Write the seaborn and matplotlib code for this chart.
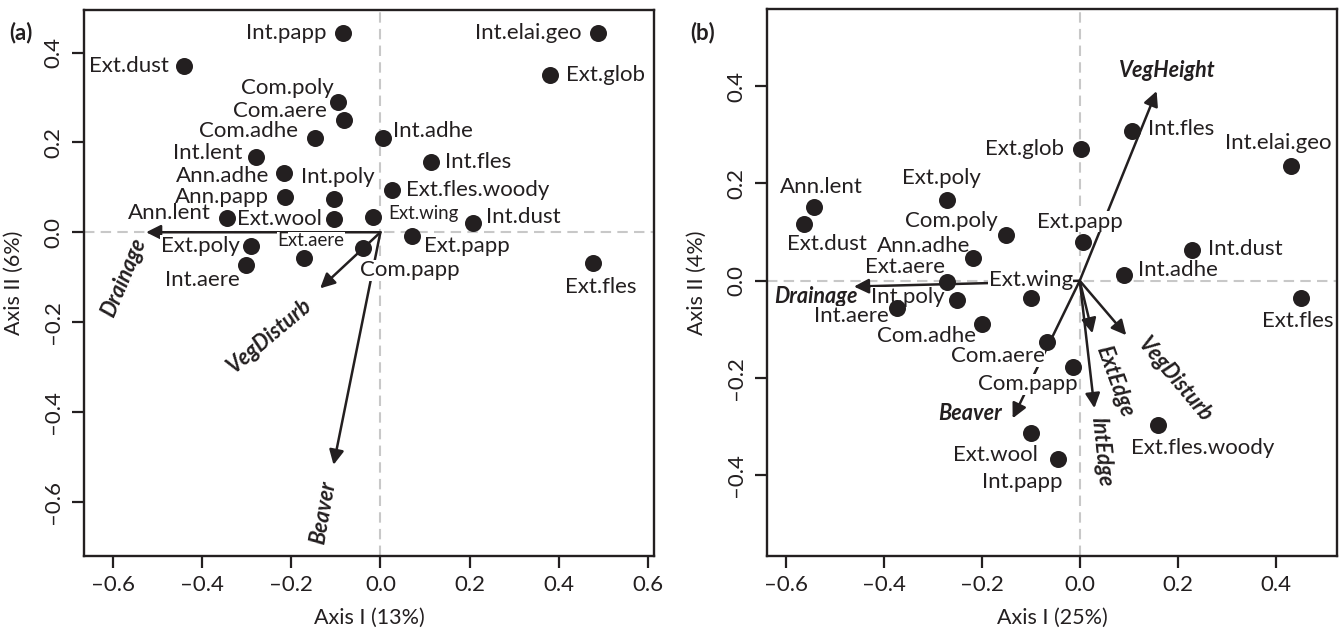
import numpy as np
import pandas as pd
import matplotlib
matplotlib.use("Agg")
import matplotlib.pyplot as plt
import seaborn as sns

# ---- panel (a) species scores
a_names = ["Int.papp", "Int.elai.geo", "Ext.dust", "Ext.glob", "Com.poly", "Com.aere",
           "Com.adhe", "Int.adhe", "Int.lent", "Int.fles", "Ann.adhe", "Int.poly",
           "Ext.fles.woody", "Ann.papp", "Ann.lent", "Ext.wool", "Ext.wing", "Int.dust",
           "Ext.papp", "Ext.poly", "Ext.aere", "Com.papp", "Int.aere", "Ext.fles"]
a_x = [-0.083, 0.488, -0.439, 0.380, -0.094, -0.082, -0.146, 0.005, -0.279, 0.113, -0.215, -0.103,
       0.027, -0.214, -0.343, -0.103, -0.016, 0.208, 0.071, -0.289, -0.171, -0.039, -0.300, 0.477]
a_y = [0.443, 0.443, 0.371, 0.350, 0.291, 0.249, 0.211, 0.211, 0.167, 0.156, 0.131, 0.073,
       0.094, 0.079, 0.031, 0.030, 0.035, 0.020, -0.008, -0.030, -0.057, -0.036, -0.073, -0.069]

# ---- panel (a) environmental vectors
a_env = ["Drainage", "VegDisturb", "Beaver"]
a_env_x = [-0.525, -0.135, -0.105]
a_env_y = [0.0, -0.125, -0.518]

# ---- panel (b) species scores
b_names = ["Ann.lent", "Ext.dust", "Ext.poly", "Com.poly", "Ann.adhe", "Ext.aere", "Ext.wing",
           "Int.poly", "Int.aere", "Com.adhe", "Com.aere", "Com.papp", "Ext.wool", "Int.papp",
           "Ext.fles.woody", "Ext.fles", "Ext.papp", "Ext.glob", "Int.fles", "Int.elai.geo",
           "Int.dust", "Int.adhe"]
b_x = [-0.542, -0.563, -0.271, -0.151, -0.218, -0.271, -0.100, -0.251, -0.374, -0.199, -0.066,
       -0.014, -0.100, -0.045, 0.159, 0.452, 0.006, 0.002, 0.106, 0.431, 0.229, 0.091]
b_y = [0.152, 0.116, 0.166, 0.094, 0.046, -0.002, -0.036, -0.040, -0.057, -0.089, -0.127,
       -0.178, -0.314, -0.366, -0.296, -0.036, 0.080, 0.270, 0.308, 0.236, 0.064, 0.012]

b_env = ["Drainage", "VegHeight", "Beaver", "ExtEdge", "IntEdge", "VegDisturb"]
b_env_x = [-0.461, 0.157, -0.137, 0.026, 0.030, 0.095]
b_env_y = [-0.012, 0.390, -0.283, -0.108, -0.262, -0.112]

# ---- label placement (ha, dx px, dy px)
a_lab = {
    "Int.papp": ("right", -17, 0), "Int.elai.geo": ("right", -17, 0), "Ext.dust": ("right", -16, 0),
    "Ext.glob": ("left", 16, 0), "Com.poly": ("right", -5, 14), "Com.aere": ("right", -17, 9),
    "Com.adhe": ("right", -17, 7), "Int.adhe": ("left", 10, 7), "Int.lent": ("right", -13, 4),
    "Int.fles": ("left", 14, 0), "Ann.adhe": ("right", -15, -3), "Int.poly": ("center", 3, 22),
    "Ext.fles.woody": ("left", 14, 0), "Ann.papp": ("right", -16, 0), "Ann.lent": ("right", -16, 5),
    "Ext.wool": ("right", -13, 0), "Ext.wing": ("left", 15, 3), "Int.dust": ("left", 13, 6),
    "Ext.papp": ("left", 12, -10), "Ext.poly": ("right", -12, 0), "Ext.aere": ("center", 7, 17),
    "Com.papp": ("left", -3, -22), "Int.aere": ("right", -7, -15), "Ext.fles": ("center", 7, -24),
}
a_small = ["Ext.wing", "Ext.aere"]
b_lab = {
    "Ann.lent": ("center", 7, 20), "Ext.dust": ("center", 23, -20), "Ext.poly": ("center", -6, 22),
    "Com.poly": ("right", -8, 14), "Ann.adhe": ("right", -3, 12), "Ext.aere": ("right", -2, 15),
    "Ext.wing": ("center", 0, 18), "Int.poly": ("right", -12, 3), "Int.aere": ("right", -8, -8),
    "Com.adhe": ("right", -6, -12), "Com.aere": ("right", -3, -14), "Com.papp": ("right", 5, -17),
    "Ext.wool": ("right", 7, -22), "Int.papp": ("right", 5, -23), "Ext.fles.woody": ("center", 45, -23),
    "Ext.fles": ("center", -3, -23), "Ext.papp": ("center", -3, 20), "Ext.glob": ("right", -17, 0),
    "Int.fles": ("left", 16, 2), "Int.elai.geo": ("center", -13, 23), "Int.dust": ("left", 16, 1),
    "Int.adhe": ("left", 14, 5),
}
# arrow label positions (data units) and rotation
a_env_lab = [(-0.574, -0.100, 67), (-0.247, -0.230, 40), (-0.127, -0.624, 80)]
b_env_lab = [(-0.538, -0.033, 0), (0.179, 0.433, 0), (-0.224, -0.274, 0),
             (0.072, -0.207, -70), (0.045, -0.351, -84), (0.194, -0.204, -50)]

ink = "#231f20"
sns.set_theme(style="white")
plt.rcParams["font.family"] = ["Lato", "DejaVu Sans"]
plt.rcParams["axes.unicode_minus"] = True

fig = plt.figure(figsize=(13.4, 6.29), dpi=100)
ax_a = fig.add_axes([0.0627, 0.1161, 0.4257, 0.868])
ax_b = fig.add_axes([0.5726, 0.1161, 0.4254, 0.869])


def draw_panel(ax, names, xs, ys, labs, small, env, ex, ey, elab, xlim, ylim, xticks, yticks,
               xlabel, ylabel):
    ax.axhline(0, color="#c8c8c8", lw=1.5, ls=(0, (5, 3)), zorder=1)
    ax.axvline(0, color="#c8c8c8", lw=1.5, ls=(0, (5, 3)), zorder=1)
    for name, x, y, (lx, ly, rot) in zip(env, ex, ey, elab):
        ax.annotate("", xy=(x, y), xytext=(0, 0),
                    arrowprops=dict(arrowstyle="-|>", color=ink, lw=1.8, mutation_scale=22,
                                    shrinkA=0, shrinkB=0), zorder=2)
        ax.text(lx, ly, name, rotation=rot, ha="center", va="center", fontsize=15.5,
                fontweight="bold", fontstyle="italic", color=ink, zorder=3,
                rotation_mode="anchor")
    df = pd.DataFrame({"x": xs, "y": ys, "name": names})
    sns.scatterplot(data=df, x="x", y="y", ax=ax, s=150, color=ink, edgecolor=None,
                    linewidth=0, zorder=5)
    for name, x, y in zip(names, xs, ys):
        ha, dx, dy = labs[name]
        fs = 13.4 if name in small else 16
        ax.annotate(name, xy=(x, y), xytext=(dx, dy), textcoords="offset pixels",
                    ha=ha, va="center", fontsize=fs, color=ink, zorder=4,
                    bbox=dict(facecolor="white", edgecolor="none", pad=0.3))
    ax.set_xlim(*xlim)
    ax.set_ylim(*ylim)
    ax.set_xticks(xticks)
    ax.set_yticks(yticks)
    ax.set_xticklabels([f"{t:.1f}".replace("-", "\u2013") for t in xticks])
    ax.set_yticklabels([f"{t:.1f}".replace("-", "\u2013") for t in yticks],
                       rotation=90, va="center")
    ax.tick_params(axis="both", direction="out", length=8.6, width=1.6, colors=ink,
                   labelsize=16, left=True, bottom=True)
    ax.tick_params(axis="x", pad=5)
    ax.tick_params(axis="y", pad=6.5)
    for sp in ax.spines.values():
        sp.set_linewidth(1.7)
        sp.set_color(ink)
    ax.set_xlabel(xlabel, fontsize=15.5, color=ink, labelpad=9)
    ax.set_ylabel(ylabel, fontsize=15.5, color=ink, labelpad=14)


draw_panel(ax_a, a_names, a_x, a_y, a_lab, a_small, a_env, a_env_x, a_env_y, a_env_lab,
           (-0.664, 0.614), (-0.721, 0.495), [-0.6, -0.4, -0.2, 0.0, 0.2, 0.4, 0.6],
           [-0.6, -0.4, -0.2, 0.0, 0.2, 0.4], "Axis I (13%)", "Axis II (6%)")
draw_panel(ax_b, b_names, b_x, b_y, b_lab, [], b_env, b_env_x, b_env_y, b_env_lab,
           (-0.638, 0.526), (-0.566, 0.558), [-0.6, -0.4, -0.2, 0.0, 0.2, 0.4],
           [-0.4, -0.2, 0.0, 0.2, 0.4], "Axis I (25%)", "Axis II (4%)")

fig.text(21 / 1340, 1 - 33 / 629, "(a)", fontsize=16, fontweight="bold", ha="center",
         va="center", color=ink)
fig.text(703 / 1340, 1 - 33 / 629, "(b)", fontsize=16, fontweight="bold", ha="center",
         va="center", color=ink)

fig.savefig("out.png", dpi=100)
